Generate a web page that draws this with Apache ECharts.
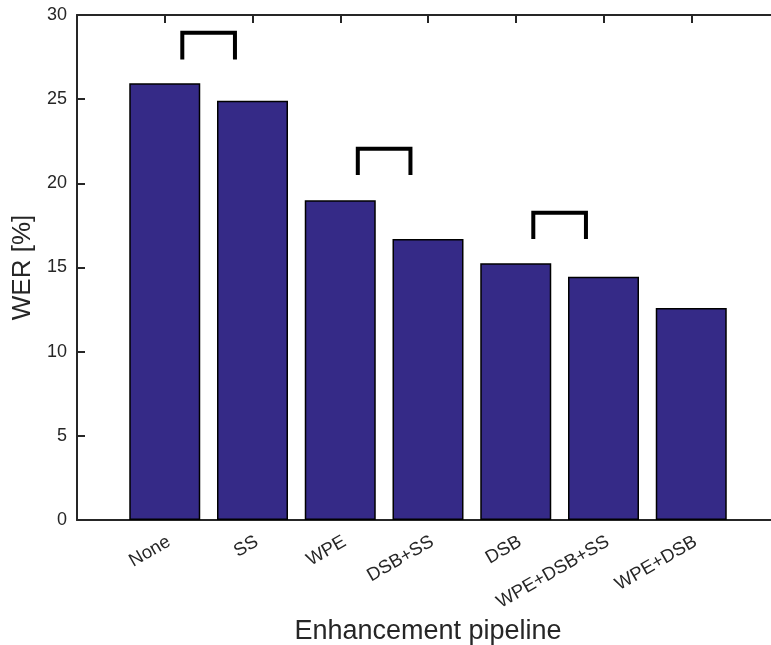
<!DOCTYPE html>
<html>
<head>
<meta charset="utf-8">
<script src="https://cdn.jsdelivr.net/npm/echarts@6/dist/echarts.min.js"></script>
<style>
html,body{margin:0;padding:0;background:#fff;}
#chart{width:771px;height:645px;}
</style>
</head>
<body>
<div id="chart"></div>
<script>
// Data
var categories = ['None', 'SS', 'WPE', 'DSB+SS', 'DSB', 'WPE+DSB+SS', 'WPE+DSB'];
var werValues = [25.95, 24.9, 19.0, 16.7, 15.25, 14.45, 12.6];
var yTicks = [0, 5, 10, 15, 20, 25, 30];
// Brackets: [left x, right x] in category positions (1-based), low and high y
var bracketLeft = [1.2, 3.2, 5.2];
var bracketRight = [1.8, 3.8, 5.8];
var bracketLow = [27.35, 20.5, 16.7];
var bracketHigh = [28.95, 22.05, 18.25];

var chart = echarts.init(document.getElementById('chart'));
var axisColor = '#262626';
var font = 'Liberation Sans, Arial, Helvetica, sans-serif';

var barData = werValues.map(function (v, i) { return [i + 1, v]; });

var series = [{
  type: 'bar',
  data: barData,
  barWidth: 71,
  itemStyle: { color: '#352a87', borderColor: '#000', borderWidth: 1.5 },
  silent: true,
  z: 2
}];
for (var b = 0; b < bracketLeft.length; b++) {
  series.push({
    type: 'line',
    data: [[bracketLeft[b], bracketLow[b]], [bracketLeft[b], bracketHigh[b]],
           [bracketRight[b], bracketHigh[b]], [bracketRight[b], bracketLow[b]]],
    showSymbol: false,
    symbol: 'none',
    lineStyle: { color: '#000', width: 4, cap: 'butt', join: 'miter' },
    silent: true,
    z: 5
  });
}

chart.setOption({
  animation: false,
  backgroundColor: '#fff',
  grid: { left: 77, top: 15, width: 702, height: 505, containLabel: false, outerBoundsMode: 'none' },
  xAxis: [{
    type: 'value',
    min: 0, max: 8, interval: 1,
    position: 'bottom',
    name: 'Enhancement pipeline',
    nameLocation: 'middle',
    nameGap: 96,
    nameTextStyle: { fontFamily: font, fontSize: 27, color: axisColor },
    axisLine: { show: true, onZero: false, lineStyle: { color: axisColor, width: 2 } },
    axisTick: { show: false },
    splitLine: { show: false },
    axisLabel: {
      rotate: 30,
      margin: 23,
      padding: [16, -5, 0, 0],
      fontFamily: font,
      fontSize: 18.5,
      color: axisColor,
      formatter: function (v) {
        var i = Math.round(v) - 1;
        return (i >= 0 && i < categories.length) ? categories[i] : '';
      }
    }
  }, {
    type: 'value',
    min: 0, max: 8, interval: 1,
    position: 'top',
    axisLine: { show: true, onZero: false, lineStyle: { color: axisColor, width: 2 } },
    axisTick: { show: true, inside: true, length: 8, lineStyle: { color: axisColor, width: 2 } },
    axisLabel: { show: false },
    splitLine: { show: false }
  }],
  yAxis: {
    type: 'value',
    min: yTicks[0], max: yTicks[yTicks.length - 1], interval: 5,
    name: 'WER [%]',
    nameLocation: 'middle',
    nameGap: 38,
    nameTextStyle: { fontFamily: font, fontSize: 26, color: axisColor },
    axisLine: { show: true, lineStyle: { color: axisColor, width: 2 } },
    axisTick: { show: true, inside: true, length: 8, lineStyle: { color: axisColor, width: 2 } },
    axisLabel: { fontFamily: font, fontSize: 18, color: axisColor, margin: 10 },
    splitLine: { show: false }
  },
  series: series
});
</script>
</body>
</html>
